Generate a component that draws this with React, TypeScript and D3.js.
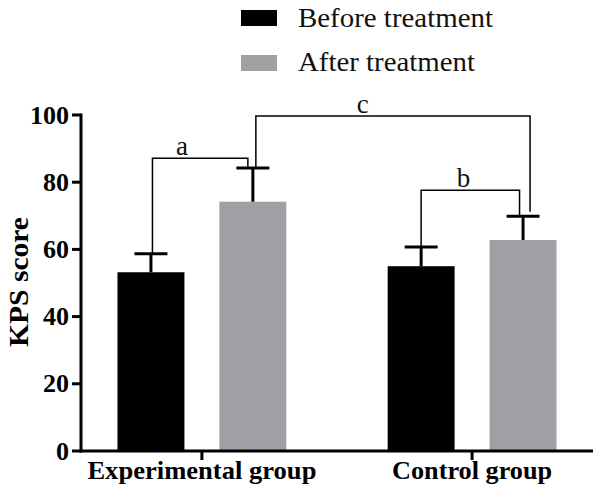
import React from "react";
import * as d3 from "d3";

const groups = ["Experimental group", "Control group"];
const series = ["Before treatment", "After treatment"];
const beforeMean = [53.2, 55.0];
const beforeSD = [5.5, 5.7];
const afterMean = [74.2, 62.8];
const afterSD = [10.0, 7.1];
const yTicks = [0, 20, 40, 60, 80, 100];

// significance brackets: [group, series] of each end, bracket level, leg end values
const bracketLabels = ["a", "b", "c"];
const bracketFrom = [[0, 0], [1, 0], [0, 1]];
const bracketTo = [[0, 1], [1, 1], [1, 1]];
const bracketLevel = [87.1, 77.6, 99.7];
const bracketFromEnd = [58.7, 60.7, 84.2];
const bracketToEnd = [84.6, 70.2, 71.2];

const colors = ["#000000", "#a09fa4"];
const FONT = "'Liberation Serif', 'Times New Roman', Times, serif";

export default function App() {
  const W = 600, H = 500;
  const left = 81, right = 593, top = 115, bottom = 451;

  const x0 = d3.scaleBand<string>().domain(groups).range([left, right]).paddingInner(0.375).paddingOuter(0.135);
  const x1 = d3.scaleBand<string>().domain(series).range([0, x0.bandwidth()]).paddingInner(0.343).paddingOuter(0);
  const y = d3.scaleLinear().domain([0, 100]).range([bottom, top]);

  const means = [beforeMean, afterMean];
  const sds = [beforeSD, afterSD];

  const barCenter = (g: number, s: number) =>
    (x0(groups[g]) as number) + (x1(series[s]) as number) + x1.bandwidth() / 2;

  const legOffsets = [[1.5, -5], [0, -3.5], [3, 7]];
  const labelFrac = [0.31, 0.43, 0.39];

  return (
    <svg width={W} height={H} style={{ position: "absolute", left: 0, top: 0, background: "#fff" }} fontFamily={FONT}>
      <rect x={0} y={0} width={W} height={H} fill="#fff" />
      {/* bars */}
      {groups.map((g, gi) =>
        series.map((s, si) => {
          const v = means[si][gi];
          const bx = (x0(g) as number) + (x1(s) as number);
          return (
            <rect key={g + s} x={bx} y={y(v)} width={x1.bandwidth()} height={y(0) - y(v)} fill={colors[si]} />
          );
        })
      )}
      {/* error bars */}
      {groups.map((g, gi) =>
        series.map((s, si) => {
          const v = means[si][gi];
          const e = v + sds[si][gi];
          const cx = barCenter(gi, si);
          return (
            <g key={"e" + g + s} stroke="#000" strokeWidth={3}>
              <line x1={cx} x2={cx} y1={y(v)} y2={y(e)} />
              <line x1={cx - 16.5} x2={cx + 16.5} y1={y(e)} y2={y(e)} />
            </g>
          );
        })
      )}
      {/* brackets */}
      {bracketLabels.map((lab, i) => {
        const xa = barCenter(bracketFrom[i][0], bracketFrom[i][1]) + legOffsets[i][0];
        const xb = barCenter(bracketTo[i][0], bracketTo[i][1]) + legOffsets[i][1];
        const yl = y(bracketLevel[i]);
        return (
          <g key={"b" + lab}>
            <path
              d={`M${xa},${y(bracketFromEnd[i])}V${yl}H${xb}V${y(bracketToEnd[i])}`}
              fill="none"
              stroke="#000"
              strokeWidth={1.5}
            />
            <text x={xa + (xb - xa) * labelFrac[i]} y={yl - 3} textAnchor="middle" fontSize={27} fill="#111">
              {lab}
            </text>
          </g>
        );
      })}
      {/* y axis */}
      <line x1={left} x2={left} y1={top - 1.5} y2={bottom + 1.5} stroke="#000" strokeWidth={3} />
      {yTicks.map((t) => (
        <g key={"yt" + t}>
          <line x1={left - 9} x2={left} y1={y(t)} y2={y(t)} stroke="#000" strokeWidth={3} />
          <text
            x={69}
            y={y(t) + 8.5}
            textAnchor="end"
            fontSize={26}
            fontWeight="bold"
            textLength={String(t).length * 13}
            lengthAdjust="spacingAndGlyphs"
          >
            {t}
          </text>
        </g>
      ))}
      {/* x axis */}
      <line x1={left - 1.5} x2={right} y1={bottom} y2={bottom} stroke="#000" strokeWidth={3} />
      {groups.map((g, gi) => {
        const cx = (x0(g) as number) + x0.bandwidth() / 2;
        return (
          <g key={"xt" + g}>
            <line x1={cx} x2={cx} y1={bottom} y2={bottom + 9} stroke="#000" strokeWidth={3} />
            <text
              x={cx}
              y={479}
              textAnchor="middle"
              fontSize={25}
              fontWeight="bold"
              textLength={gi === 0 ? 229 : 160}
              lengthAdjust="spacingAndGlyphs"
            >
              {g}
            </text>
          </g>
        );
      })}
      {/* y label */}
      <text
        transform={`translate(28,${(217 + 347) / 2}) rotate(-90)`}
        textAnchor="middle"
        fontSize={28}
        fontWeight="bold"
        textLength={130}
        lengthAdjust="spacingAndGlyphs"
      >
        KPS score
      </text>
      {/* legend */}
      {series.map((s, si) => (
        <g key={"lg" + s}>
          <rect x={241} y={si === 0 ? 10 : 55} width={36} height={16} fill={colors[si]} />
          <text
            x={298}
            y={si === 0 ? 27 : 71}
            fontSize={27}
            fill="#111"
            textLength={si === 0 ? 195 : 177}
            lengthAdjust="spacingAndGlyphs"
          >
            {s}
          </text>
        </g>
      ))}
    </svg>
  );
}
